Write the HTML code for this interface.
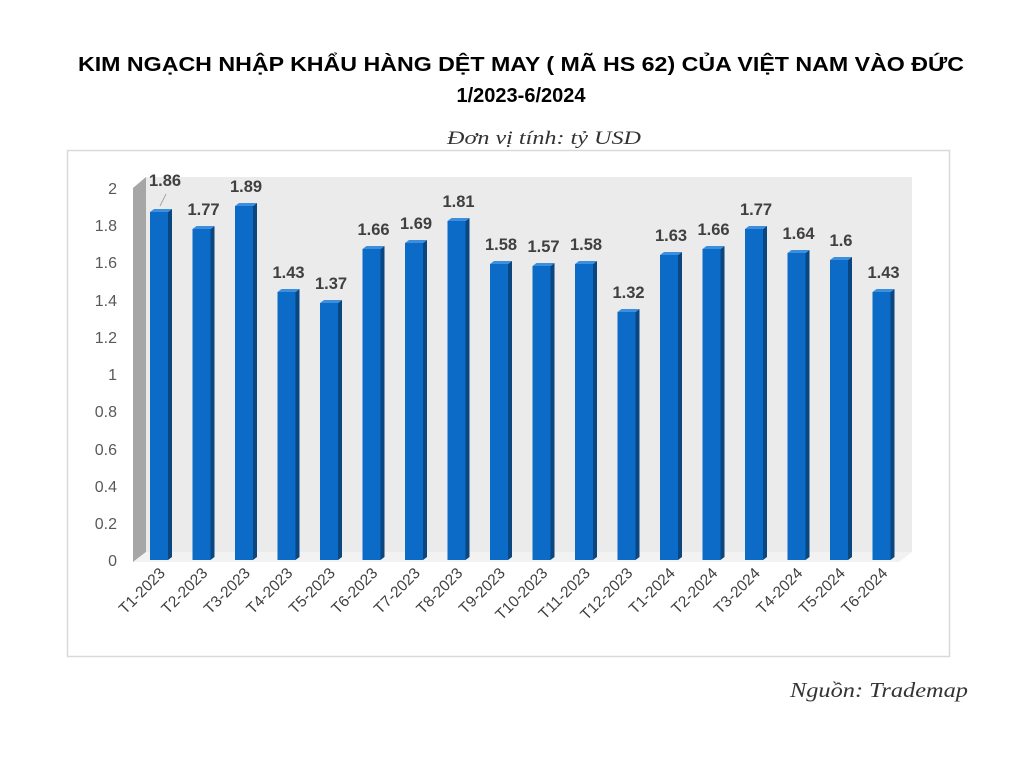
<!DOCTYPE html>
<html><head><meta charset="utf-8"><style>
html,body{margin:0;padding:0;background:#fff;width:1024px;height:768px;overflow:hidden}
.b text[font-size="14"]{font-size:15.5px}
.b text[font-size="15"]{font-size:16.5px}
</style></head><body>
<svg width="1024" height="768" xmlns="http://www.w3.org/2000/svg">
<text x="521" y="71" text-anchor="middle" font-family="Liberation Sans, sans-serif" font-weight="bold" font-size="20" fill="#000" textLength="886" lengthAdjust="spacingAndGlyphs">KIM NGẠCH NHẬP KHẨU HÀNG DỆT MAY ( MÃ HS 62) CỦA VIỆT NAM VÀO ĐỨC</text>
<text x="521" y="102" text-anchor="middle" font-family="Liberation Sans, sans-serif" font-weight="bold" font-size="20" fill="#000">1/2023-6/2024</text>
<text x="447" y="144" font-family="Liberation Serif, serif" font-style="italic" font-size="19" fill="#333" textLength="194" lengthAdjust="spacingAndGlyphs">Đơn vị tính: tỷ USD</text>
<rect x="67.5" y="150.5" width="882" height="506" fill="#fff" stroke="#d9d9d9" stroke-width="1.5"/>
<rect x="146" y="177" width="766" height="375" fill="#ebebeb"/>
<polygon points="133,188 146,177 146,552 133,562" fill="#a6a6a6"/>
<polygon points="133,562 146,552 912,552 899,562" fill="#f2f2f2"/>
<g font-family="Liberation Sans, sans-serif" font-size="16" fill="#595959" text-anchor="end">
<text x="117" y="566">0</text><text x="117" y="529">0.2</text><text x="117" y="492">0.4</text><text x="117" y="455">0.6</text><text x="117" y="417">0.8</text><text x="117" y="380">1</text><text x="117" y="343">1.2</text><text x="117" y="306">1.4</text><text x="117" y="268">1.6</text><text x="117" y="231">1.8</text><text x="117" y="194">2</text>
</g>
<g class="b" font-family="Liberation Sans, sans-serif">
<g transform="translate(161,0)"><rect x="-11" y="212" width="18" height="348" fill="#0b6bc6"/><polygon points="7,212 11,209 11,557 7,560" fill="#0a4680"/><polygon points="-11,212 -7,209 11,209 7,212" fill="#3c8fdc"/><text x="4" y="186" text-anchor="middle" font-weight="bold" font-size="15" fill="#404040">1.86</text><text transform="translate(5,574) rotate(-45)" text-anchor="end" font-size="14" fill="#404040">T1-2023</text></g>
<g transform="translate(203.5,0)"><rect x="-11" y="229" width="18" height="331" fill="#0b6bc6"/><polygon points="7,229 11,226 11,557 7,560" fill="#0a4680"/><polygon points="-11,229 -7,226 11,226 7,229" fill="#3c8fdc"/><text x="0" y="215" text-anchor="middle" font-weight="bold" font-size="15" fill="#404040">1.77</text><text transform="translate(5,574) rotate(-45)" text-anchor="end" font-size="14" fill="#404040">T2-2023</text></g>
<g transform="translate(246,0)"><rect x="-11" y="206" width="18" height="354" fill="#0b6bc6"/><polygon points="7,206 11,203 11,557 7,560" fill="#0a4680"/><polygon points="-11,206 -7,203 11,203 7,206" fill="#3c8fdc"/><text x="0" y="192" text-anchor="middle" font-weight="bold" font-size="15" fill="#404040">1.89</text><text transform="translate(5,574) rotate(-45)" text-anchor="end" font-size="14" fill="#404040">T3-2023</text></g>
<g transform="translate(288.5,0)"><rect x="-11" y="292" width="18" height="268" fill="#0b6bc6"/><polygon points="7,292 11,289 11,557 7,560" fill="#0a4680"/><polygon points="-11,292 -7,289 11,289 7,292" fill="#3c8fdc"/><text x="0" y="278" text-anchor="middle" font-weight="bold" font-size="15" fill="#404040">1.43</text><text transform="translate(5,574) rotate(-45)" text-anchor="end" font-size="14" fill="#404040">T4-2023</text></g>
<g transform="translate(331,0)"><rect x="-11" y="303" width="18" height="257" fill="#0b6bc6"/><polygon points="7,303 11,300 11,557 7,560" fill="#0a4680"/><polygon points="-11,303 -7,300 11,300 7,303" fill="#3c8fdc"/><text x="0" y="289" text-anchor="middle" font-weight="bold" font-size="15" fill="#404040">1.37</text><text transform="translate(5,574) rotate(-45)" text-anchor="end" font-size="14" fill="#404040">T5-2023</text></g>
<g transform="translate(373.5,0)"><rect x="-11" y="249" width="18" height="311" fill="#0b6bc6"/><polygon points="7,249 11,246 11,557 7,560" fill="#0a4680"/><polygon points="-11,249 -7,246 11,246 7,249" fill="#3c8fdc"/><text x="0" y="235" text-anchor="middle" font-weight="bold" font-size="15" fill="#404040">1.66</text><text transform="translate(5,574) rotate(-45)" text-anchor="end" font-size="14" fill="#404040">T6-2023</text></g>
<g transform="translate(416,0)"><rect x="-11" y="243" width="18" height="317" fill="#0b6bc6"/><polygon points="7,243 11,240 11,557 7,560" fill="#0a4680"/><polygon points="-11,243 -7,240 11,240 7,243" fill="#3c8fdc"/><text x="0" y="229" text-anchor="middle" font-weight="bold" font-size="15" fill="#404040">1.69</text><text transform="translate(5,574) rotate(-45)" text-anchor="end" font-size="14" fill="#404040">T7-2023</text></g>
<g transform="translate(458.5,0)"><rect x="-11" y="221" width="18" height="339" fill="#0b6bc6"/><polygon points="7,221 11,218 11,557 7,560" fill="#0a4680"/><polygon points="-11,221 -7,218 11,218 7,221" fill="#3c8fdc"/><text x="0" y="207" text-anchor="middle" font-weight="bold" font-size="15" fill="#404040">1.81</text><text transform="translate(5,574) rotate(-45)" text-anchor="end" font-size="14" fill="#404040">T8-2023</text></g>
<g transform="translate(501,0)"><rect x="-11" y="264" width="18" height="296" fill="#0b6bc6"/><polygon points="7,264 11,261 11,557 7,560" fill="#0a4680"/><polygon points="-11,264 -7,261 11,261 7,264" fill="#3c8fdc"/><text x="0" y="250" text-anchor="middle" font-weight="bold" font-size="15" fill="#404040">1.58</text><text transform="translate(5,574) rotate(-45)" text-anchor="end" font-size="14" fill="#404040">T9-2023</text></g>
<g transform="translate(543.5,0)"><rect x="-11" y="266" width="18" height="294" fill="#0b6bc6"/><polygon points="7,266 11,263 11,557 7,560" fill="#0a4680"/><polygon points="-11,266 -7,263 11,263 7,266" fill="#3c8fdc"/><text x="0" y="252" text-anchor="middle" font-weight="bold" font-size="15" fill="#404040">1.57</text><text transform="translate(5,574) rotate(-45)" text-anchor="end" font-size="14" fill="#404040">T10-2023</text></g>
<g transform="translate(586,0)"><rect x="-11" y="264" width="18" height="296" fill="#0b6bc6"/><polygon points="7,264 11,261 11,557 7,560" fill="#0a4680"/><polygon points="-11,264 -7,261 11,261 7,264" fill="#3c8fdc"/><text x="0" y="250" text-anchor="middle" font-weight="bold" font-size="15" fill="#404040">1.58</text><text transform="translate(5,574) rotate(-45)" text-anchor="end" font-size="14" fill="#404040">T11-2023</text></g>
<g transform="translate(628.5,0)"><rect x="-11" y="312" width="18" height="248" fill="#0b6bc6"/><polygon points="7,312 11,309 11,557 7,560" fill="#0a4680"/><polygon points="-11,312 -7,309 11,309 7,312" fill="#3c8fdc"/><text x="0" y="298" text-anchor="middle" font-weight="bold" font-size="15" fill="#404040">1.32</text><text transform="translate(5,574) rotate(-45)" text-anchor="end" font-size="14" fill="#404040">T12-2023</text></g>
<g transform="translate(671,0)"><rect x="-11" y="255" width="18" height="305" fill="#0b6bc6"/><polygon points="7,255 11,252 11,557 7,560" fill="#0a4680"/><polygon points="-11,255 -7,252 11,252 7,255" fill="#3c8fdc"/><text x="0" y="241" text-anchor="middle" font-weight="bold" font-size="15" fill="#404040">1.63</text><text transform="translate(5,574) rotate(-45)" text-anchor="end" font-size="14" fill="#404040">T1-2024</text></g>
<g transform="translate(713.5,0)"><rect x="-11" y="249" width="18" height="311" fill="#0b6bc6"/><polygon points="7,249 11,246 11,557 7,560" fill="#0a4680"/><polygon points="-11,249 -7,246 11,246 7,249" fill="#3c8fdc"/><text x="0" y="235" text-anchor="middle" font-weight="bold" font-size="15" fill="#404040">1.66</text><text transform="translate(5,574) rotate(-45)" text-anchor="end" font-size="14" fill="#404040">T2-2024</text></g>
<g transform="translate(756,0)"><rect x="-11" y="229" width="18" height="331" fill="#0b6bc6"/><polygon points="7,229 11,226 11,557 7,560" fill="#0a4680"/><polygon points="-11,229 -7,226 11,226 7,229" fill="#3c8fdc"/><text x="0" y="215" text-anchor="middle" font-weight="bold" font-size="15" fill="#404040">1.77</text><text transform="translate(5,574) rotate(-45)" text-anchor="end" font-size="14" fill="#404040">T3-2024</text></g>
<g transform="translate(798.5,0)"><rect x="-11" y="253" width="18" height="307" fill="#0b6bc6"/><polygon points="7,253 11,250 11,557 7,560" fill="#0a4680"/><polygon points="-11,253 -7,250 11,250 7,253" fill="#3c8fdc"/><text x="0" y="239" text-anchor="middle" font-weight="bold" font-size="15" fill="#404040">1.64</text><text transform="translate(5,574) rotate(-45)" text-anchor="end" font-size="14" fill="#404040">T4-2024</text></g>
<g transform="translate(841,0)"><rect x="-11" y="260" width="18" height="300" fill="#0b6bc6"/><polygon points="7,260 11,257 11,557 7,560" fill="#0a4680"/><polygon points="-11,260 -7,257 11,257 7,260" fill="#3c8fdc"/><text x="0" y="246" text-anchor="middle" font-weight="bold" font-size="15" fill="#404040">1.6</text><text transform="translate(5,574) rotate(-45)" text-anchor="end" font-size="14" fill="#404040">T5-2024</text></g>
<g transform="translate(883.5,0)"><rect x="-11" y="292" width="18" height="268" fill="#0b6bc6"/><polygon points="7,292 11,289 11,557 7,560" fill="#0a4680"/><polygon points="-11,292 -7,289 11,289 7,292" fill="#3c8fdc"/><text x="0" y="278" text-anchor="middle" font-weight="bold" font-size="15" fill="#404040">1.43</text><text transform="translate(5,574) rotate(-45)" text-anchor="end" font-size="14" fill="#404040">T6-2024</text></g>
</g>
<line x1="160" y1="206" x2="166" y2="194" stroke="#a6a6a6" stroke-width="1"/>
<text x="790" y="697" font-family="Liberation Serif, serif" font-style="italic" font-size="21" fill="#333" textLength="178" lengthAdjust="spacingAndGlyphs">Nguồn: Trademap</text>
</svg>
</body></html>
